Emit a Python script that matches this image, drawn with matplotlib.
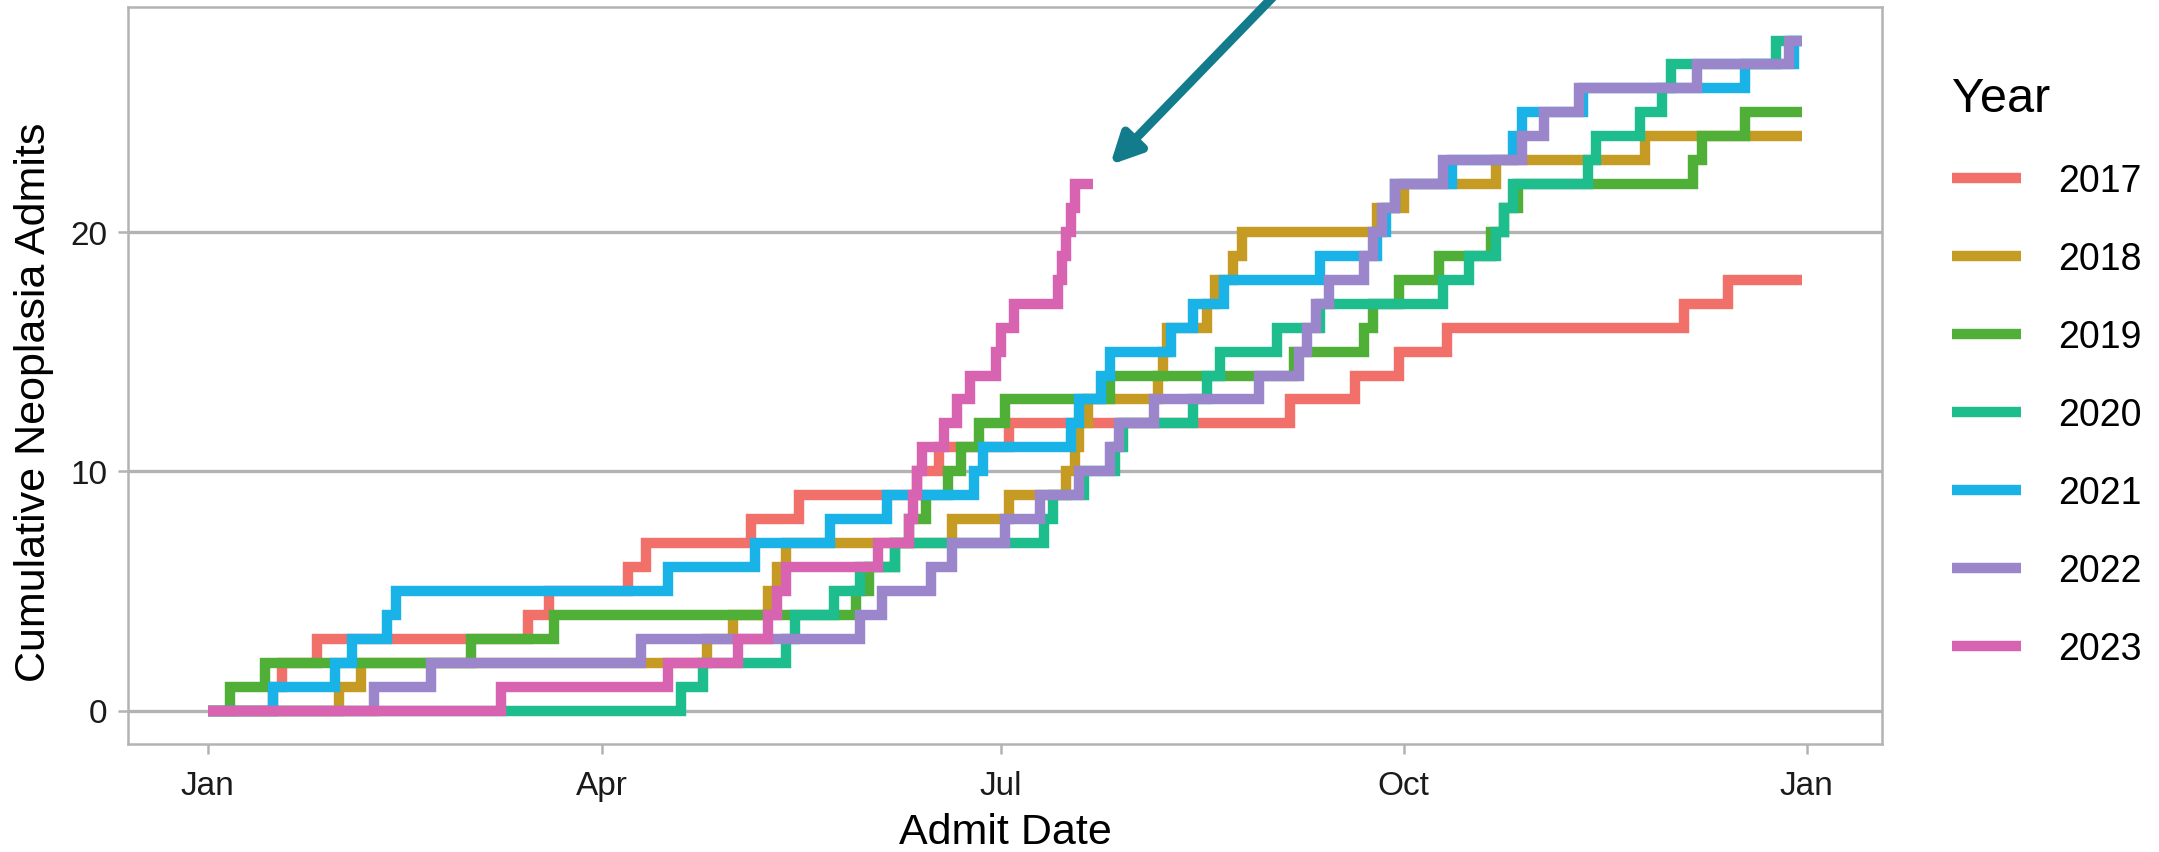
import datetime as dt

import numpy as np
import matplotlib
matplotlib.use("Agg")
import matplotlib.pyplot as plt
import matplotlib.dates as mdates

plt.rcParams["font.family"] = ["Liberation Sans", "DejaVu Sans"]

years = ["2017", "2018", "2019", "2020", "2021", "2022", "2023"]
colors = ["#f1716a", "#c59b23", "#50af37", "#1dbd8d", "#1ab3e7", "#9b86cc", "#d864b1"]

# day of year (0 = 1 Jan) of every neoplasia admit
adm_2017 = [15, 17, 25, 73, 78, 96, 100, 124, 135, 162, 167, 183, 247, 262, 272, 283, 337, 347]
adm_2018 = [30, 35, 114, 120, 128, 130, 132, 170, 183, 196, 198, 199, 201, 217, 218, 219,
            228, 230, 234, 236, 267, 273, 294, 328]
adm_2019 = [5, 13, 60, 79, 148, 151, 157, 160, 164, 169, 172, 176, 182, 206, 248, 264, 266,
            272, 281, 293, 296, 299, 339, 341, 351]
adm_2020 = [108, 113, 132, 134, 143, 149, 157, 191, 193, 200, 207, 209, 225, 228, 231, 244,
            254, 282, 288, 294, 296, 298, 315, 317, 327, 332, 334, 358]
adm_2021 = [15, 29, 33, 41, 43, 105, 125, 142, 155, 175, 177, 197, 199, 204, 206, 220, 225,
            232, 254, 267, 269, 271, 284, 298, 300, 314, 351, 362]
adm_2022 = [38, 51, 99, 149, 154, 165, 170, 182, 190, 199, 206, 208, 216, 240, 249, 251, 253,
            256, 264, 266, 268, 271, 282, 300, 305, 313, 340, 361]
adm_2023 = [67, 105, 121, 128, 130, 132, 153, 160, 161, 162, 163, 168, 171, 174, 180, 181,
            184, 194, 195, 196, 197, 198]
admits = [adm_2017, adm_2018, adm_2019, adm_2020, adm_2021, adm_2022, adm_2023]
last_day = [364, 364, 364, 364, 364, 364, 202]

base = mdates.date2num(dt.datetime(2001, 1, 1))
grey = "#b3b3b3"

fig = plt.figure(figsize=(21.59, 8.53), dpi=100)
ax = fig.add_axes([128 / 2159, 1 - 745 / 853, 1754 / 2159, 737 / 853])

for yr, adm, end, col in zip(years, admits, last_day, colors):
    n = len(adm)
    x = base + np.array([0] + adm + [end], dtype=float)
    y = np.r_[0, np.arange(1, n + 1), n]
    ax.step(x, y, where="post", color=col, lw=7.5, label=yr,
            solid_capstyle="butt", solid_joinstyle="miter")

ax.set_xlim(base - 18.2, base + 382.2)
ax.set_ylim(-1.4, 29.4)
ax.set_yticks([0, 10, 20])
ax.xaxis.set_major_locator(mdates.MonthLocator(bymonth=[1, 4, 7, 10]))
ax.xaxis.set_major_formatter(mdates.DateFormatter("%b"))

ax.yaxis.grid(True, color=grey, lw=2.4)
ax.set_axisbelow(True)
for s in ax.spines.values():
    s.set_color(grey)
    s.set_linewidth(1.8)
ax.tick_params(length=7, width=1.8, color=grey, labelsize=24, labelcolor="#1a1a1a")
ax.tick_params(axis="x", pad=12)
ax.tick_params(axis="y", pad=8)

ax.set_xlabel("Admit Date", fontsize=31, labelpad=8)
ax.set_ylabel("Cumulative Neoplasia Admits", fontsize=31)
ax.yaxis.set_label_coords(-0.042, 0.465)

# arrow pointing at the 2023 line
ax.annotate("", xy=(base + 206, 22.8), xytext=(base + 251, 31.3),
            arrowprops=dict(arrowstyle="-|>", color="#127c8c", lw=6.5,
                            mutation_scale=45, shrinkA=0, shrinkB=0),
            annotation_clip=False)

leg = ax.legend(title="Year", loc="upper left", bbox_to_anchor=(1952 / 2159, 1 - 77 / 853),
                bbox_transform=fig.transFigure, frameon=False, fontsize=27,
                title_fontsize=35, handlelength=1.84, handletextpad=0.99,
                labelspacing=1.12, borderpad=0, borderaxespad=0, alignment="left")

fig.savefig("out.png", dpi=100)
